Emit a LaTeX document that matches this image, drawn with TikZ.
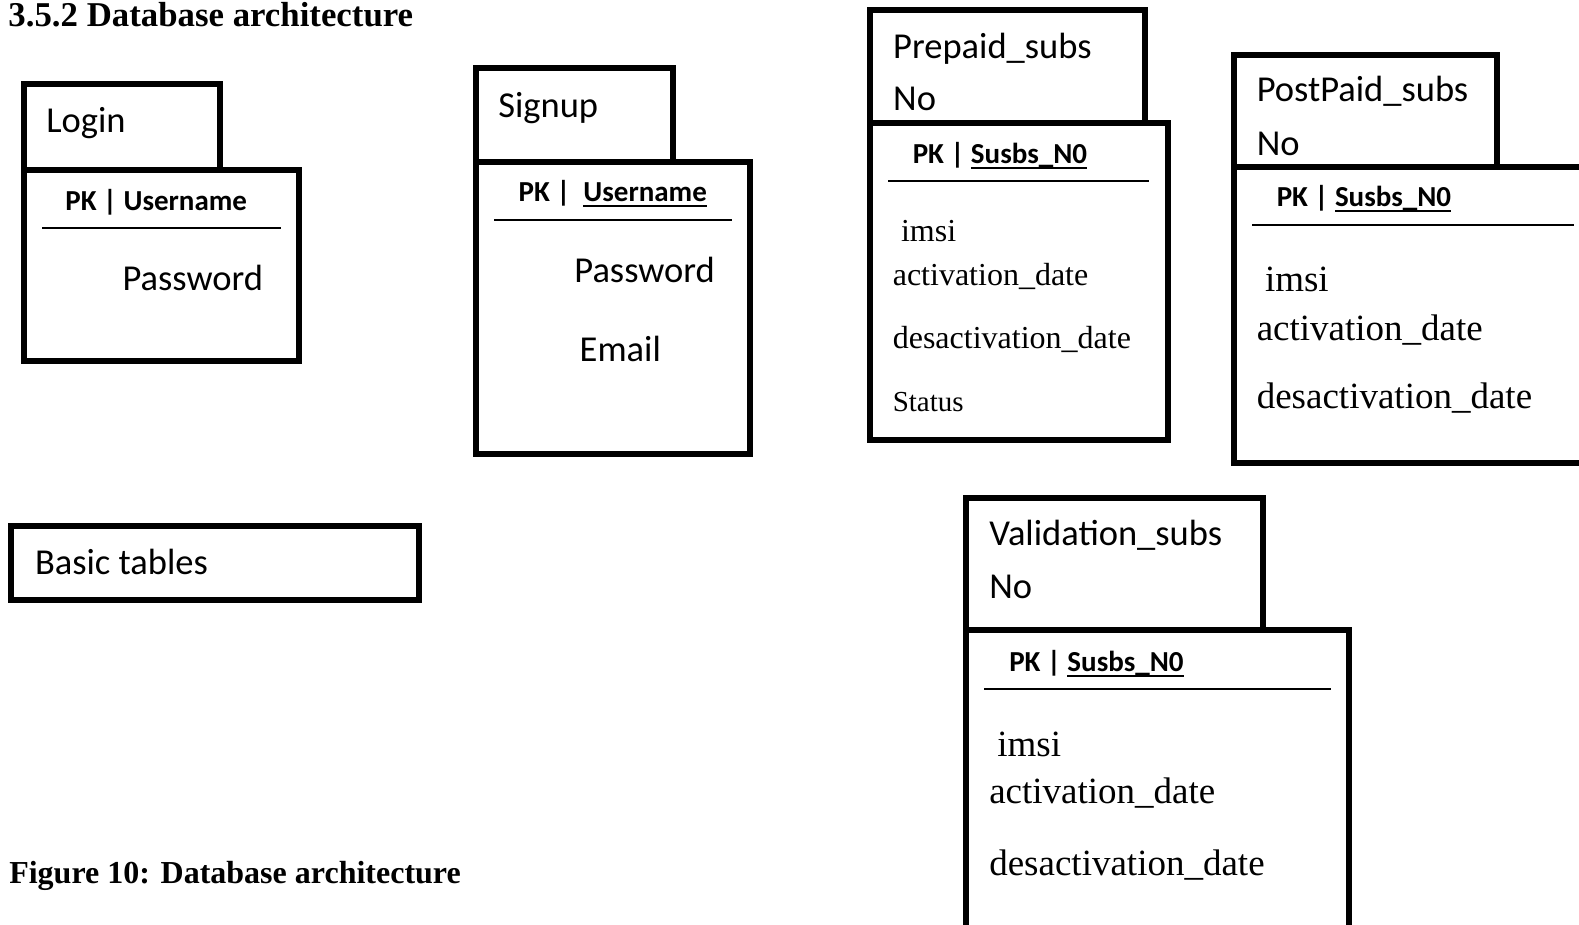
\documentclass[tikz,border=0pt]{standalone}
\usepackage{fontspec}
\setmainfont{Carlito}
\newfontfamily\tnr{Liberation Serif}
% underline drawn a fixed distance under the baseline
\newcommand\ulx[1]{\setbox0\hbox{#1}\rlap{\rule[-5.5pt]{\wd0}{2pt}}\box0}
\begin{document}
\begin{tikzpicture}[x=1pt,y=-1pt,
  box/.style={draw=black,line width=6pt,line join=miter},
  txt/.style={anchor=base west,inner sep=0pt,outer sep=0pt,font=\fontsize{36.5}{40}\selectfont},
  pk/.style={anchor=base west,inner sep=0pt,outer sep=0pt,font=\fontsize{29}{32}\selectfont\bfseries},
  fld/.style={anchor=base west,inner sep=0pt,outer sep=0pt,font=\tnr\fontsize{32}{36}\selectfont},
  fldl/.style={anchor=base west,inner sep=0pt,outer sep=0pt,font=\tnr\fontsize{37}{40}\selectfont},
  head/.style={anchor=base west,inner sep=0pt,outer sep=0pt,font=\tnr\bfseries\fontsize{34.8}{38}\selectfont},
  sep/.style={line width=2pt}]
\useasboundingbox (0,0) rectangle (1579,924);
\clip (0,0) rectangle (1579,924);

\node[head] (heading) at (8.5,26.7) {3.5.2 Database architecture};

% Login
\draw[box] (23.5,84) rectangle (220,170);
\draw[box] (23.5,170) rectangle (298.6,361.3);
\node[txt] (login) at (46.3,132.7) {Login};
\node[pk] (loginpk) at (65.4,210.7) {PK | Username};
\coordinate (ls1) at (42,227.7); \coordinate (ls2) at (281,227.7);
\draw[sep] (ls1) -- (ls2);
\node[txt] (loginpw) at (122.6,290) {Password};

% Signup
\draw[box] (475.5,68) rectangle (672.6,161.7);
\draw[box] (475.5,161.7) rectangle (750.4,453.7);
\node[txt] (signup) at (498.3,117.3) {Signup};
\node[pk] (signuppk) at (518.7,201.7) {PK |\ \ \ulx{Username}};
\coordinate (ss1) at (494.4,219.7); \coordinate (ss2) at (732,219.7);
\draw[sep] (ss1) -- (ss2);
\node[txt] (signuppw) at (574.4,282.7) {Password};
\node[txt] (signupem) at (579.7,361) {Email};

% Prepaid_subs
\draw[box] (869.7,10) rectangle (1144.7,122.5);
\draw[box] (869.7,122.5) rectangle (1167.5,439.7);
\node[txt] (pre) at (893.2,58.3) {Prepaid\_subs};
\node[txt] (preno) at (893.2,110) {No};
\node[pk] (prepk) at (912.8,163.3) {PK | \ulx{Susbs\_N0}};
\coordinate (ps1) at (888,181); \coordinate (ps2) at (1149,181);
\draw[sep] (ps1) -- (ps2);
\node[fld] (preimsi) at (901,241.7) {imsi};
\node[fld] (preact) at (892.8,285) {activation\_date};
\node[fld] (predes) at (892.8,348.3) {desactivation\_date};
\node[fld,font=\tnr\fontsize{29}{32}\selectfont] (prestat) at (892.8,411.7) {Status};

% PostPaid_subs
\draw[box] (1233.5,55) rectangle (1496.7,166.7);
\draw[box] (1233.5,166.7) rectangle (1620,463.3);
\node[txt] (post) at (1256.8,101.7) {PostPaid\_subs};
\node[txt] (postno) at (1256.8,155) {No};
\node[pk] (postpk) at (1276.8,206.7) {PK | \ulx{Susbs\_N0}};
\coordinate (qs1) at (1252,225); \coordinate (qs2) at (1574,225);
\draw[sep] (qs1) -- (qs2);
\node[fldl] (postimsi) at (1265,291.7) {imsi};
\node[fldl] (postact) at (1256.8,340) {activation\_date};
\node[fldl] (postdes) at (1256.8,408.3) {desactivation\_date};

% Validation_subs
\draw[box] (965.5,498.3) rectangle (1263.3,630.3);
\draw[box] (965.5,630.3) rectangle (1348.8,960);
\node[txt] (val) at (989.3,545) {Validation\_subs};
\node[txt] (valno) at (989.3,598.3) {No};
\node[pk] (valpk) at (1009.3,671.7) {PK | \ulx{Susbs\_N0}};
\coordinate (vs1) at (984,689); \coordinate (vs2) at (1330.7,689);
\draw[sep] (vs1) -- (vs2);
\node[fldl] (valimsi) at (997.3,756) {imsi};
\node[fldl] (valact) at (989.3,803.3) {activation\_date};
\node[fldl] (valdes) at (989.3,875) {desactivation\_date};

% legend box
\draw[box] (10.7,526) rectangle (419.2,600);
\node[txt] (basic) at (35,574) {Basic tables};

\node[head,font=\tnr\bfseries\fontsize{32}{36}\selectfont] (caption) at (9.3,883.3) {Figure 10: Database architecture};
\end{tikzpicture}
\end{document}
